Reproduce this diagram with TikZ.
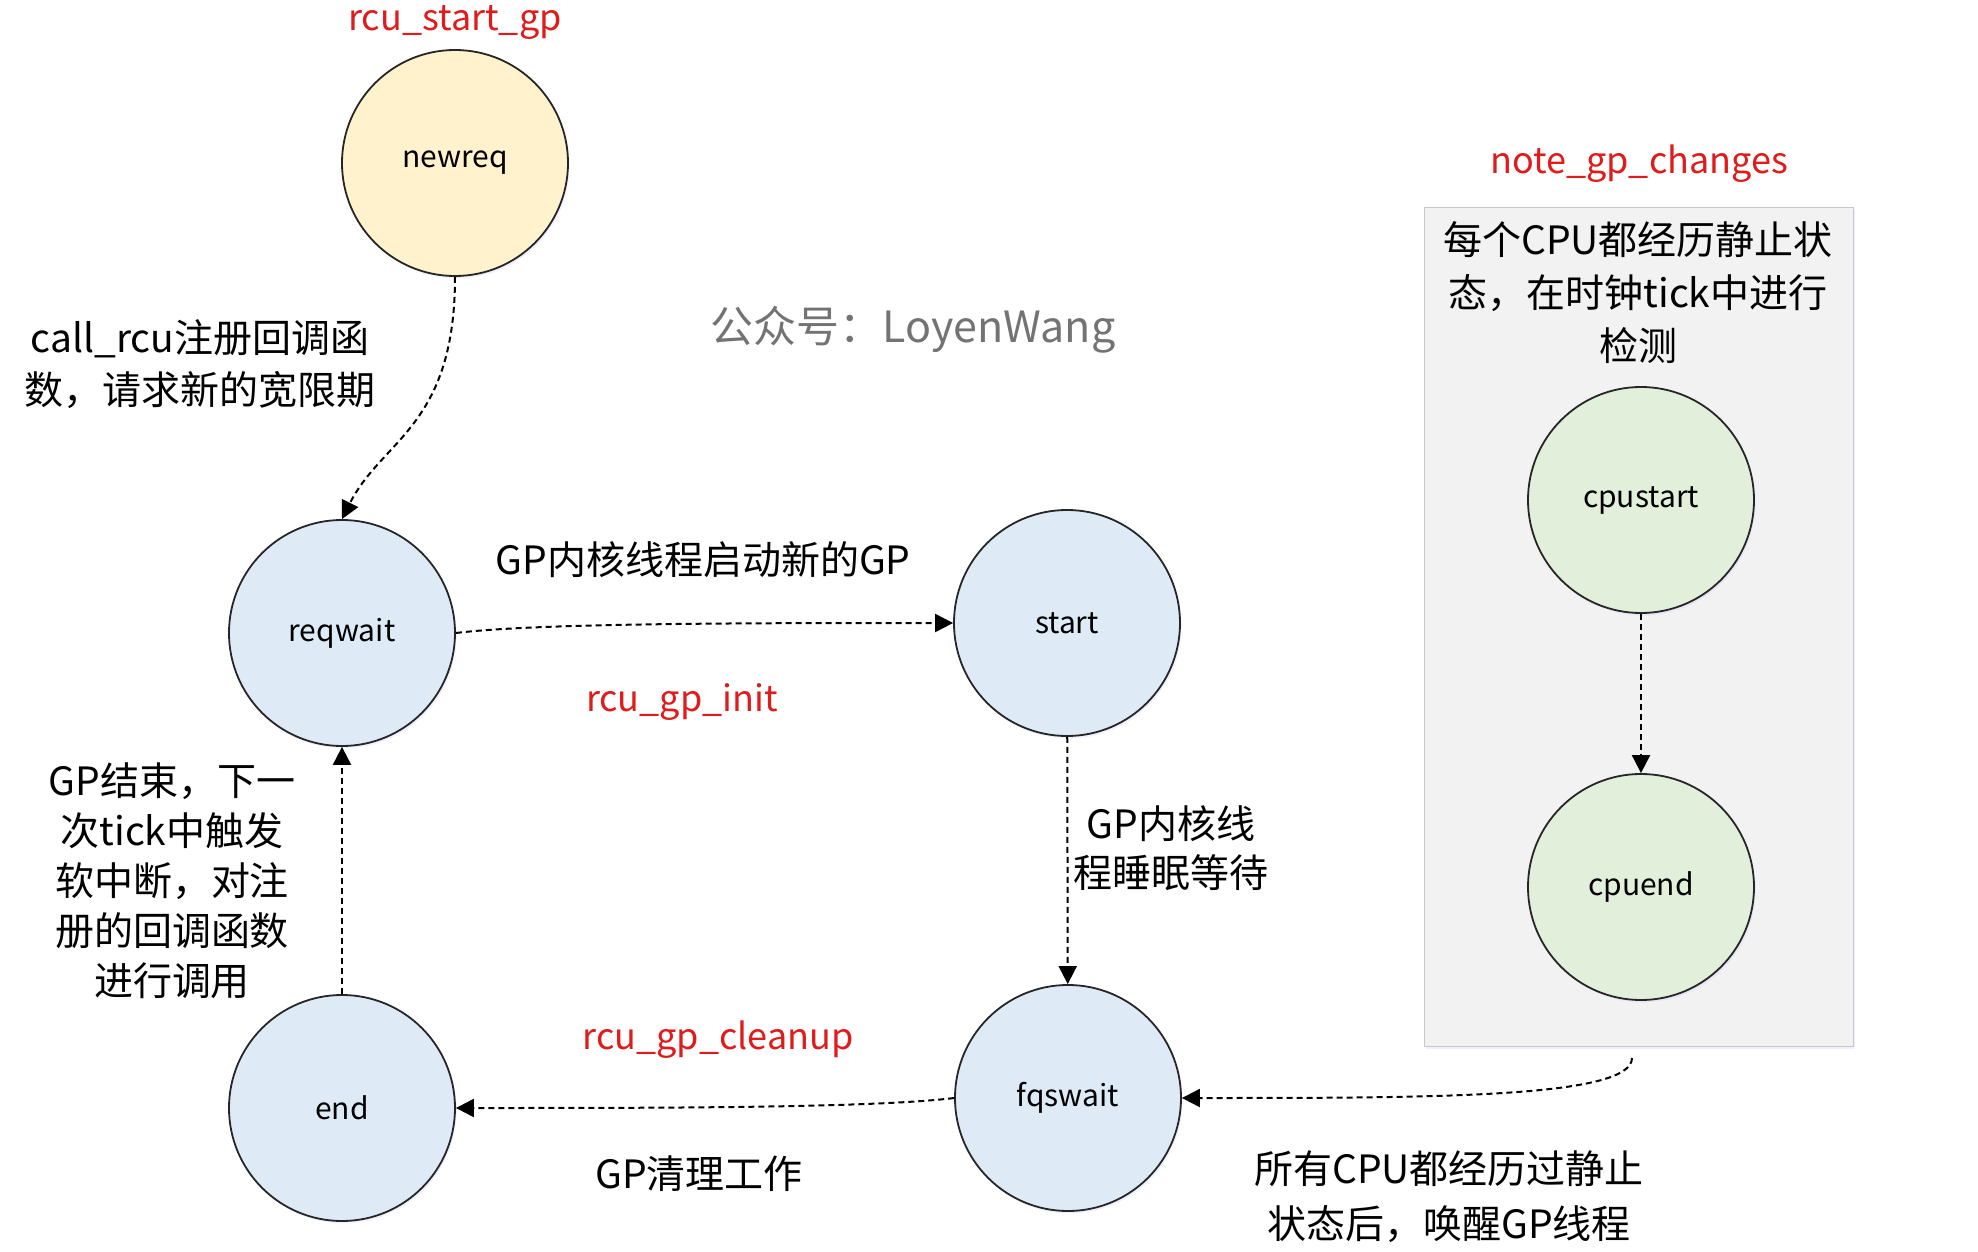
\documentclass[tikz,border=0pt]{standalone}
\usepackage{fontspec}
\setmainfont{Noto Sans CJK SC}
\usetikzlibrary{arrows.meta,shadows}
\definecolor{reqyellow}{HTML}{FFF2CC}
\definecolor{gpblue}{HTML}{DEEBF7}
\definecolor{cpugreen}{HTML}{E2EFDA}
\definecolor{boxgray}{HTML}{F2F2F2}
\definecolor{fnred}{HTML}{E01B1B}

\begin{document}
\begin{tikzpicture}[x=0.5pt,y=-0.5pt,
   state/.style={circle,draw=black!85,line width=0.9pt,minimum size=113pt,inner sep=0pt,
      font=\fontsize{15}{18}\selectfont,
      drop shadow={opacity=0.3,fill=blue!20,shadow xshift=0.8pt,shadow yshift=-1.2pt}},
   fname/.style={text=fnred,font=\fontsize{18}{22}\selectfont},
   note/.style={align=center,font=\fontsize{19.5}{26}\selectfont},
   flow/.style={dash pattern=on 3pt off 2pt,line width=1pt,-{Triangle[length=9pt,width=9pt]}}]
   \useasboundingbox (0,0) rectangle (1978,1252);
   \node [draw=black!22,fill=boxgray,minimum width=214.5pt,minimum height=419.5pt,inner sep=0pt,
      drop shadow={opacity=0.3,fill=blue!20,shadow xshift=1pt,shadow yshift=-1.5pt}] (cpubox) at (1638.5,626.5) {};
   \coordinate (boxfoot) at (1632,1058);

   \node [state,fill=reqyellow] (newreq) at (455,163) {newreq};
   \node [state,fill=gpblue] (reqwait) at (342,633) {reqwait};
   \node [state,fill=gpblue] (gpstart) at (1067,623) {start};
   \node [state,fill=gpblue] (fqswait) at (1068,1098) {fqswait};
   \node [state,fill=gpblue] (gpend) at (342,1108) {end};
   \node [state,fill=cpugreen] (cpustart) at (1641,500) {cpustart};
   \node [state,fill=cpugreen] (cpuend) at (1641,887) {cpuend};

   \node [fname] (startgp) at (455,22) {rcu\_start\_gp};
   \node [fname] (gpinit) at (682,702) {rcu\_gp\_init};
   \node [fname] (gpcleanup) at (718,1040) {rcu\_gp\_cleanup};
   \node [fname] (gpchanges) at (1639,164) {note\_gp\_changes};

   \node [note] (callrcu) at (200,364) {call\_rcu注册回调函\\数，请求新的宽限期};
   \node [note,font=\fontsize{19.5}{25}\selectfont] (gpdone) at (172,881) {GP结束，下一\\次tick中触发\\软中断，对注\\册的回调函数\\进行调用};
   \node [note] (kthread) at (703,560) {GP内核线程启动新的GP};
   \node [note,font=\fontsize{19.5}{24.5}\selectfont] (gpsleep) at (1171,848) {GP内核线\\程睡眠等待};
   \node [note] (gpclean) at (699,1174) {GP清理工作};
   \node [note,font=\fontsize{19.5}{27.5}\selectfont] (qsall) at (1449,1197) {所有CPU都经历过静止\\状态后，唤醒GP线程};
   \node [note,font=\fontsize{19.5}{26.5}\selectfont] (qscheck) at (1638,293) {每个CPU都经历静止状\\态，在时钟tick中进行\\检测};
   \node [text=black!55,font=\fontsize{21.5}{26}\selectfont] (mark) at (913,330) {公众号：LoyenWang};

   \draw [flow] (newreq.south) .. controls +(0,150) and +(40,-80) .. (reqwait.north);
   \draw [flow] (reqwait.east) .. controls +(80,-10) and +(-200,0) .. (gpstart.west);
   \draw [flow] (gpstart) -- (fqswait);
   \draw [flow] (fqswait.west) .. controls +(-80,10) and +(200,0) .. (gpend.east);
   \draw [flow] (gpend) -- (reqwait);
   \draw [flow] (cpustart) -- (cpuend);
   \draw [flow] (boxfoot) .. controls +(0,40) and +(250,0) .. (fqswait.east);
\end{tikzpicture}
\end{document}
